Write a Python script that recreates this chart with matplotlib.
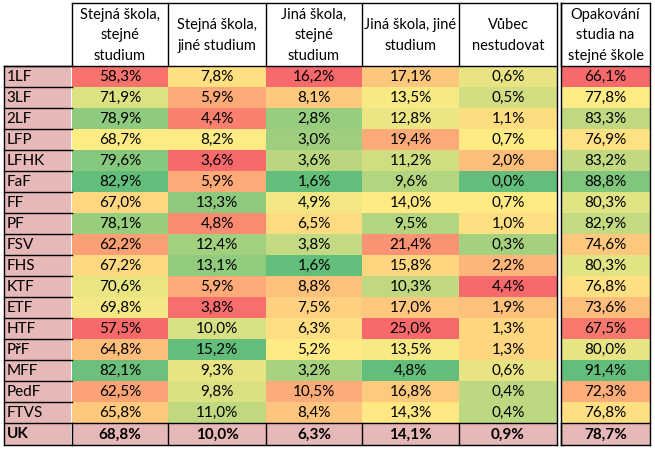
# -*- coding: utf-8 -*-

import numpy as np
import matplotlib
matplotlib.use("Agg")
import matplotlib.pyplot as plt
from matplotlib.colors import LinearSegmentedColormap, TwoSlopeNorm
from matplotlib.patches import Rectangle

plt.rcParams['font.family'] = ['Lato', 'DejaVu Sans']

faculties = ["1LF", "3LF", "2LF", "LFP", "LFHK", "FaF", "FF", "PF", "FSV", "FHS",
             "KTF", "ETF", "HTF", "PřF", "MFF", "PedF", "FTVS"]
headers = ["Stejná škola,\nstejné\nstudium", "Stejná škola,\njiné studium",
           "Jiná škola,\nstejné\nstudium", "Jiná škola, jiné\nstudium",
           "Vůbec\nnestudovat", "Opakování\nstudia na\nstejné škole"]

stejna_stejne = [58.3, 71.9, 78.9, 68.7, 79.6, 82.9, 67.0, 78.1, 62.2, 67.2,
                 70.6, 69.8, 57.5, 64.8, 82.1, 62.5, 65.8]
stejna_jine = [7.8, 5.9, 4.4, 8.2, 3.6, 5.9, 13.3, 4.8, 12.4, 13.1,
               5.9, 3.8, 10.0, 15.2, 9.3, 9.8, 11.0]
jina_stejne = [16.2, 8.1, 2.8, 3.0, 3.6, 1.6, 4.9, 6.5, 3.8, 1.6,
               8.8, 7.5, 6.3, 5.2, 3.2, 10.5, 8.4]
jina_jine = [17.1, 13.5, 12.8, 19.4, 11.2, 9.6, 14.0, 9.5, 21.4, 15.8,
             10.3, 17.0, 25.0, 13.5, 4.8, 16.8, 14.3]
vubec = [0.6, 0.5, 1.1, 0.7, 2.0, 0.0, 0.7, 1.0, 0.3, 2.2,
         4.4, 1.9, 1.3, 1.3, 0.6, 0.4, 0.4]
opakovani = [66.1, 77.8, 83.3, 76.9, 83.2, 88.8, 80.3, 82.9, 74.6, 80.3,
             76.8, 73.6, 67.5, 80.0, 91.4, 72.3, 76.8]
uk_total = [68.8, 10.0, 6.3, 14.1, 0.9, 78.7]

columns = [stejna_stejne, stejna_jine, jina_stejne, jina_jine, vubec, opakovani]
higher_is_better = [True, True, False, False, False, True]

# layout in pixels
col_edges = [(72, 168), (168, 266), (266, 362), (362, 459), (459, 557), (561, 650)]
label_x0 = 4
head_top = 2.5
head_bottom = 66
row_h = 21
uk_h = 22
lw = 1.0
pink = "#E6B8B7"
fs = 11

cmap = LinearSegmentedColormap.from_list("rdylgn_xl", ["#F8696B", "#FFEB84", "#63BE7B"])

fig = plt.figure(figsize=(6.55, 4.51), dpi=100)
ax = fig.add_axes([0, 0, 1, 1])
ax.set_xlim(0, 655)
ax.set_ylim(451, 0)
ax.axis("off")

n = len(faculties)
uk_top = head_bottom + n * row_h
uk_bottom = uk_top + uk_h

# header
for (x0, x1), h in zip(col_edges, headers):
    ax.text((x0 + x1) / 2, (head_top + head_bottom) / 2 + 1, h, ha="center", va="center",
            fontsize=10.5, linespacing=1.6)

# data cells, colour scale per column (min / median / max like excel)
for j, (vals, good_high) in enumerate(zip(columns, higher_is_better)):
    v = np.array(vals)
    norm = TwoSlopeNorm(vcenter=np.median(v), vmin=v.min(), vmax=v.max())
    cm = cmap if good_high else cmap.reversed()
    x0, x1 = col_edges[j]
    for i, val in enumerate(vals):
        y0 = head_bottom + i * row_h
        ax.add_patch(Rectangle((x0, y0), x1 - x0, row_h, facecolor=cm(norm(val)), edgecolor="none"))
        ax.text((x0 + x1) / 2, y0 + row_h / 2 + 0.5, f"{val:.1f}%".replace(".", ","),
                ha="center", va="center", fontsize=fs)
    ax.add_patch(Rectangle((x0, uk_top), x1 - x0, uk_h, facecolor=pink, edgecolor="none"))
    ax.text((x0 + x1) / 2, uk_top + uk_h / 2 + 0.5, f"{uk_total[j]:.1f}%".replace(".", ","),
            ha="center", va="center", fontsize=fs, fontweight="bold")

# label column
for i, name in enumerate(faculties + ["UK"]):
    y0 = head_bottom + i * row_h
    h = uk_h if name == "UK" else row_h
    ax.add_patch(Rectangle((label_x0, y0), 72 - label_x0 - 0.8, h, facecolor=pink, edgecolor="none"))
    ax.text(label_x0 + 2.5, y0 + h / 2 + 0.5, name, ha="left", va="center", fontsize=fs,
            fontweight="bold" if name == "UK" else "normal")
    ax.plot([label_x0, 72], [y0, y0], color="black", lw=lw)

# borders
main_x0, main_x1 = col_edges[0][0], col_edges[4][1]
side_x0, side_x1 = col_edges[5]
for a, b in [(main_x0, main_x1), (side_x0, side_x1)]:
    ax.plot([a, b], [head_top, head_top], color="black", lw=lw)
    ax.plot([a, b], [head_bottom, head_bottom], color="black", lw=lw)
    ax.plot([a, b], [uk_top, uk_top], color="black", lw=lw)
    ax.plot([a, b], [uk_bottom, uk_bottom], color="black", lw=lw)
ax.plot([label_x0, main_x0], [head_bottom, head_bottom], color="black", lw=lw)
ax.plot([label_x0, main_x0], [uk_bottom, uk_bottom], color="black", lw=lw)
ax.plot([label_x0, label_x0], [head_bottom, uk_bottom], color="black", lw=lw)
for x0, x1 in col_edges:
    ax.plot([x0, x0], [head_top, head_bottom], color="black", lw=lw)
    ax.plot([x0, x0], [uk_top, uk_bottom], color="black", lw=lw)
ax.plot([main_x1, main_x1], [head_top, uk_bottom], color="black", lw=lw)
ax.plot([side_x0, side_x0], [head_top, uk_bottom], color="black", lw=lw)
ax.plot([side_x1, side_x1], [head_top, uk_bottom], color="black", lw=lw)

fig.savefig("out.png", dpi=100)
